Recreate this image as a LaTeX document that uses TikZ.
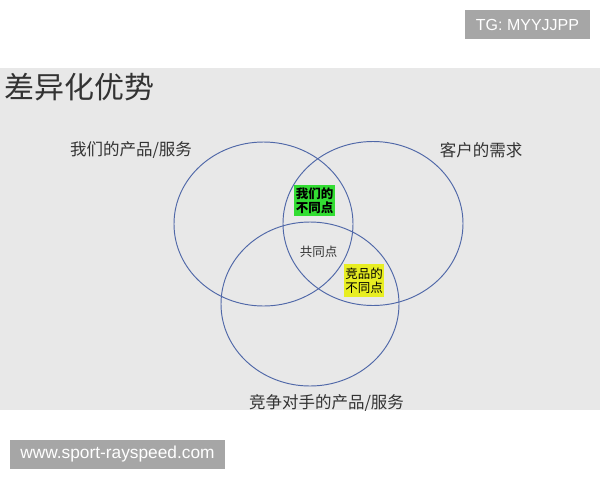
\documentclass[tikz,border=0pt]{standalone}
\usepackage{fontspec}
\setmainfont{Noto Sans CJK SC}
\newfontfamily\latinfont{Liberation Sans}
\definecolor{bggray}{HTML}{E8E8E8}
\definecolor{tagfill}{HTML}{A6A6A6}
\definecolor{ringblue}{HTML}{5068A8}
\definecolor{txt}{HTML}{333333}
\definecolor{greenbox}{HTML}{33DD33}
\definecolor{yellowbox}{HTML}{E8EE22}
\tikzset{
  ring/.style={draw=ringblue, line width=0.95pt},
  tagbox/.style={fill=tagfill, text=white, font=\latinfont\fontsize{16}{18}\selectfont, inner sep=0pt, anchor=center},
  biglabel/.style={text=txt, font=\fontsize{16.5}{19}\selectfont, inner sep=0pt},
  smallbox/.style={text=black, font=\bfseries\fontsize{12.5}{14}\selectfont, align=center, inner sep=1.5pt},
}
\begin{document}
\begin{tikzpicture}[x=1pt,y=-1pt]
\useasboundingbox (0,0) rectangle (600,480);
\fill[white] (0,0) rectangle (600,480);
\fill[bggray] (0,68) rectangle (600,410);
% tags
\node[tagbox, minimum width=125pt, minimum height=29pt] (tg) at (527.5,24.5) {TG: MYYJJPP};
\node[tagbox, minimum width=215pt, minimum height=29pt, font=\latinfont\fontsize{17.3}{19}\selectfont] (web) at (117.5,454.5) {www.sport-rayspeed.com};
% title
\node[text=txt, font=\fontsize{30}{34}\selectfont, anchor=west, inner sep=0pt] (title) at (4,87) {差异化优势};
% circles
\draw[ring] (263.5,224) ellipse [x radius=89.5pt, y radius=82pt];
\draw[ring] (373,223.5) ellipse [x radius=90pt, y radius=82pt];
\draw[ring] (310,304) ellipse [x radius=89pt, y radius=82pt];
% labels
\node[biglabel] (ours) at (131,150.5) {我们的产品/服务};
\node[biglabel] (cust) at (481,150.5) {客户的需求};
\node[biglabel] (comp) at (326.5,403) {竞争对手的产品/服务};
% intersections
\node[smallbox, fill=greenbox, minimum width=37pt, minimum height=31pt] (diffours) at (314.5,200.5) {我们的\\不同点};
\node[smallbox, fill=yellowbox, minimum width=38pt, minimum height=33pt, font=\fontsize{12.5}{14}\selectfont] (diffcomp) at (364,280.5) {竞品的\\不同点};
\node[text=txt, font=\fontsize{12.5}{14}\selectfont, inner sep=0pt] (common) at (318.5,251.5) {共同点};
\end{tikzpicture}
\end{document}
